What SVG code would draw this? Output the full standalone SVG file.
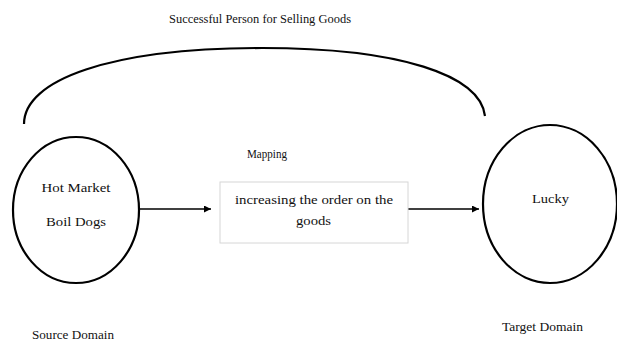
<svg xmlns="http://www.w3.org/2000/svg" width="617" height="343" viewBox="0 0 617 343">
  <style>
    .domain { fill: none; stroke: #000; stroke-width: 2.2; }
    .link { fill: none; stroke: #000; stroke-width: 1.3; }
    .box { fill: #fff; stroke: #d6d6d6; stroke-width: 1; }
  </style>
  <defs>
    <marker id="arrow" viewBox="0 0 10 10" refX="10" refY="5" markerWidth="7" markerHeight="7" markerUnits="userSpaceOnUse" orient="auto">
      <path d="M0,0 L10,5 L0,10 z" fill="#000"/>
    </marker>
  </defs>
  <rect width="617" height="343" fill="#fff"/>

  <g font-family="'Liberation Serif', 'Times New Roman', Times, serif" font-size="13" fill="#111" text-anchor="middle">
  <text x="260" y="23" textLength="182" lengthAdjust="spacingAndGlyphs">Successful Person for Selling Goods</text>

  <g id="connectors">
    <path class="domain" d="M24,124 C24,80 110,48 262,48 C400,48 480,75 485,116"/>
    <line class="link" x1="139" y1="209" x2="211" y2="209" marker-end="url(#arrow)"/>
    <line class="link" x1="408" y1="209" x2="479" y2="209" marker-end="url(#arrow)"/>
  </g>

  <g id="source">
    <ellipse class="domain" cx="76" cy="210" rx="63" ry="73"/>
    <text x="76" y="192" textLength="69" lengthAdjust="spacingAndGlyphs">Hot Market</text>
    <text x="76" y="226" textLength="60" lengthAdjust="spacingAndGlyphs">Boil Dogs</text>
    <text x="73" y="339" textLength="82" lengthAdjust="spacingAndGlyphs">Source Domain</text>
  </g>

  <g id="mapping">
    <text x="267" y="158" textLength="40" lengthAdjust="spacingAndGlyphs">Mapping</text>
    <rect class="box" x="220" y="182" width="188" height="61"/>
    <text x="314" y="204" textLength="158" lengthAdjust="spacingAndGlyphs">increasing the order on the</text>
    <text x="313.5" y="225" textLength="35" lengthAdjust="spacingAndGlyphs">goods</text>
  </g>

  <g id="target">
    <ellipse class="domain" cx="550" cy="204" rx="67" ry="79"/>
    <text x="550.5" y="203" textLength="37" lengthAdjust="spacingAndGlyphs">Lucky</text>
    <text x="542.5" y="331" textLength="81" lengthAdjust="spacingAndGlyphs">Target Domain</text>
  </g>
  </g>
</svg>
